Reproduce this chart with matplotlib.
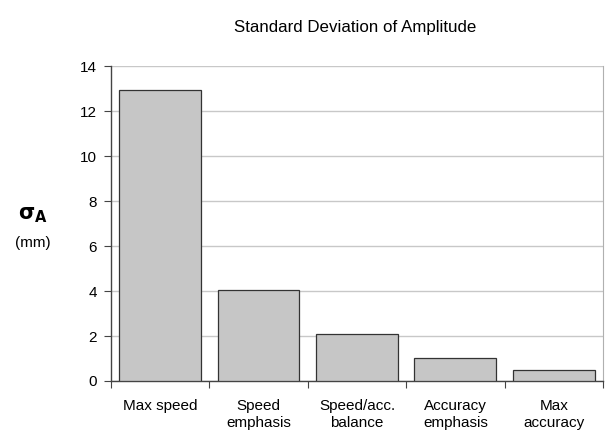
import numpy as np
import matplotlib
matplotlib.use("Agg")
import matplotlib.pyplot as plt

plt.rcParams['font.family'] = ['Liberation Sans', 'DejaVu Sans']

# data
categories = ["Max speed", "Speed\nemphasis", "Speed/acc.\nbalance", "Accuracy\nemphasis", "Max\naccuracy"]
sigma_a = [12.95, 4.05, 2.1, 1.0, 0.48]
y_ticks = [0, 2, 4, 6, 8, 10, 12, 14]

fig = plt.figure(figsize=(6.05, 4.3), dpi=100)
ax = fig.add_axes([0.1835, 0.114, 0.813, 0.732])

x = np.arange(len(categories))
ax.bar(x, sigma_a, width=0.83, color="#c6c6c6", edgecolor="#333333", linewidth=0.9, zorder=3)

ax.set_xlim(-0.5, len(categories) - 0.5)
ax.set_ylim(0, 14)
ax.set_yticks(y_ticks)
ax.yaxis.grid(True, color="#c8c8c8", linewidth=1.0, zorder=0)

# category boundary ticks like the original
ax.set_xticks(np.arange(-0.5, len(categories) + 0.5, 1.0))
ax.set_xticklabels([])
ax.set_xticks(x, minor=True)
ax.set_xticklabels(categories, minor=True, fontsize=11, linespacing=1.3)
ax.tick_params(axis="x", which="minor", length=0, pad=13)
ax.tick_params(axis="x", which="major", length=5, color="#444444")
ax.tick_params(axis="y", length=5, labelsize=11, color="#444444", pad=5)

for s in ["left", "bottom"]:
    ax.spines[s].set_color("#444444")
    ax.spines[s].set_linewidth(1.0)
ax.spines["top"].set_visible(False)
ax.spines["right"].set_color("#b0b0b0")

fig.text(0.587, 0.937, "Standard Deviation of Amplitude", ha="center", va="center", fontsize=12.2)
fig.text(0.055, 0.5, r"$\mathbf{\sigma_A}$", ha="center", va="center", fontsize=15)
fig.text(0.055, 0.435, "(mm)", ha="center", va="center", fontsize=11)

fig.savefig("out.png", dpi=100)
